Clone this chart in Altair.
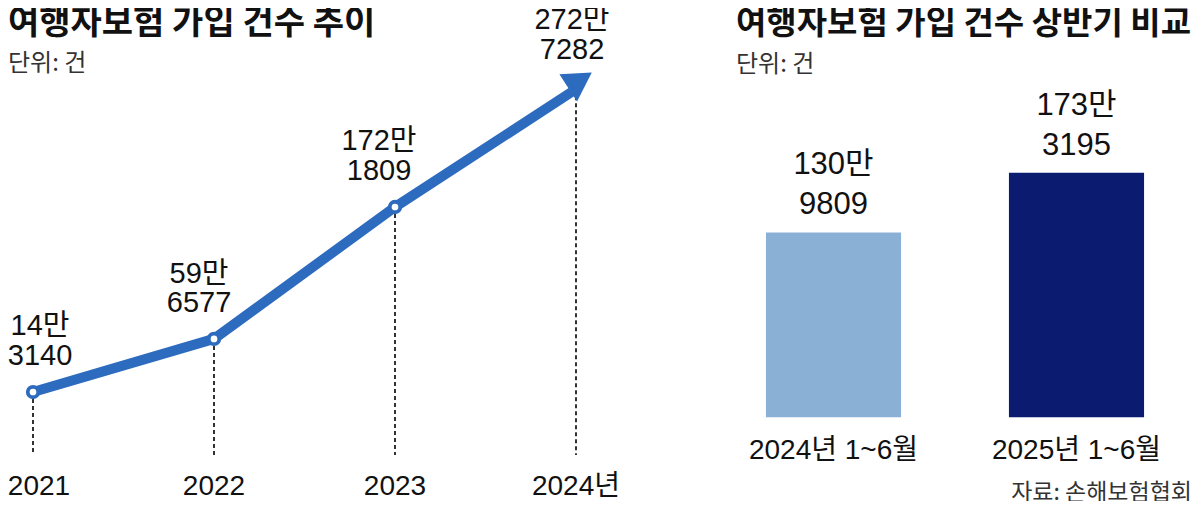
import altair as alt
import pandas as pd

# ---- data ----
years = [2021, 2022, 2023, 2024]
year_labels = ["2021", "2022", "2023", "2024년"]
policies = [143140, 596577, 1721809, 2727282]          # 건
periods = ["2024년 1~6월", "2025년 1~6월"]
half_policies = [1309809, 1733195]                      # 건

title_left = "여행자보험 가입 건수 추이"
title_right = "여행자보험 가입 건수 상반기 비교"
unit_text = "단위: 건"
source_text = "자료: 손해보험협회"

BLUE = "#2D6BBF"
LIGHT = "#8BB0D6"
DARK = "#0B1B6F"
INK = "#111111"
KFONT = "Noto Sans CJK KR"
NFONT = "Liberation Sans, Noto Sans CJK KR"


def man_label(n):
    return f"{n // 10000}만\n{n % 10000:04d}"


left_df = pd.DataFrame({
    "year": years,
    "yl": year_labels,
    "v": [p / 10000 for p in policies],
    "lab": [man_label(p) for p in policies],
})
right_df = pd.DataFrame({
    "period": periods,
    "v": [p / 10000 for p in half_policies],
    "lab": [man_label(p) for p in half_policies],
})

# ---- left panel: line with arrow ----
X = alt.X("year:Q", scale=alt.Scale(domain=[2021, 2024], range=[25, 568], nice=False, zero=False), axis=None)
Y = alt.Y("v:Q", scale=alt.Scale(domain=[0, 300], range=[400.8, 49.2], nice=False, zero=False), axis=None)

lb = alt.Chart(left_df)
rules = lb.mark_rule(strokeDash=[4, 3], color="#000000", strokeWidth=1.6).encode(x=X, y=Y, y2=alt.value(447))
line = lb.mark_line(color=BLUE, strokeWidth=10, strokeJoin="round", strokeCap="round").encode(x=X, y=Y)
dots = lb.transform_filter("datum.year < 2024").mark_circle(
    color="white", stroke=BLUE, strokeWidth=3.8, size=110, opacity=1).encode(x=X, y=Y)
arrow = lb.transform_filter("datum.year == 2024").mark_point(
    shape="triangle-up", filled=True, color=BLUE, size=1050, angle=57, xOffset=4, yOffset=-9, opacity=1
).encode(x=X, y=Y)

lab_common = dict(lineBreak="\n", fontSize=29, lineHeight=29.5, baseline="middle", font=NFONT, color=INK)
lab1 = lb.transform_filter("datum.year == 2021").mark_text(dx=7, dy=-66, **lab_common).encode(x=X, y=Y, text="lab:N")
lab2 = lb.transform_filter("datum.year == 2022").mark_text(dx=-15, dy=-65, **lab_common).encode(x=X, y=Y, text="lab:N")
lab3 = lb.transform_filter("datum.year == 2023").mark_text(dx=-16, dy=-66, **lab_common).encode(x=X, y=Y, text="lab:N")
lab4 = lb.transform_filter("datum.year == 2024").mark_text(dx=-4, dy=-69, **lab_common).encode(x=X, y=Y, text="lab:N")

ylab_common = dict(fontSize=28, baseline="middle", font=NFONT, color=INK)
ylab1 = lb.transform_filter("datum.year == 2021").mark_text(dx=6, **ylab_common).encode(
    x=X, y=alt.value(478.5), text="yl:N")
ylabs = lb.transform_filter("datum.year > 2021").mark_text(**ylab_common).encode(
    x=X, y=alt.value(478.5), text="yl:N")

left = alt.layer(rules, line, dots, arrow, lab1, lab2, lab3, lab4, ylab1, ylabs)

# ---- right panel: bars ----
XB = alt.X("period:N", sort=periods,
           scale=alt.Scale(domain=periods, range=[704, 1190], paddingInner=0.444, paddingOuter=0.222),
           axis=None)
YB = alt.Y("v:Q", scale=alt.Scale(domain=[0, 200], range=[409.3, 127], nice=False, zero=False), axis=None)

rb = alt.Chart(right_df)
bars = rb.mark_bar().encode(
    x=XB, y=YB,
    color=alt.Color("period:N", scale=alt.Scale(domain=periods, range=[LIGHT, DARK]), legend=None),
)
blabs = rb.mark_text(lineBreak="\n", fontSize=31, lineHeight=40, baseline="middle", font=NFONT,
                     color=INK, dy=-67).encode(x=XB, y=YB, text="lab:N")
cats = rb.mark_text(fontSize=28, baseline="middle", font=NFONT, color=INK).encode(
    x=XB, y=alt.value(443), text="period:N")

right = alt.layer(bars, blabs, cats)

# ---- titles / notes ----
one = alt.Chart(alt.Data(values=[{}]))
t1 = one.mark_text(align="left", baseline="middle", font=KFONT, fontSize=34, fontWeight="bold", color=INK).encode(
    x=alt.value(0), y=alt.value(15.5), text=alt.value(title_left))
t2 = one.mark_text(align="left", baseline="middle", font=KFONT, fontSize=33, fontWeight="bold", color=INK).encode(
    x=alt.value(728), y=alt.value(15.5), text=alt.value(title_right))
u1 = one.mark_text(align="left", baseline="middle", font=KFONT, fontSize=24, color="#333333").encode(
    x=alt.value(0), y=alt.value(56), text=alt.value(unit_text))
u2 = one.mark_text(align="left", baseline="middle", font=KFONT, fontSize=24, color="#333333").encode(
    x=alt.value(728), y=alt.value(57), text=alt.value(unit_text))
src = one.mark_text(align="right", baseline="middle", font=KFONT, fontSize=23, color="#333333").encode(
    x=alt.value(1184), y=alt.value(485), text=alt.value(source_text))

texts = alt.layer(t1, t2, u1, u2, src)

chart = alt.layer(left, right, texts).resolve_scale(
    x="independent", y="independent", color="independent"
).properties(
    width=1184, height=493, padding=0,
    autosize=alt.AutoSizeParams(type="none"),
    background="white",
).configure_view(stroke=None)

chart.save("out.html", embed_options={"renderer": "svg", "actions": False})
